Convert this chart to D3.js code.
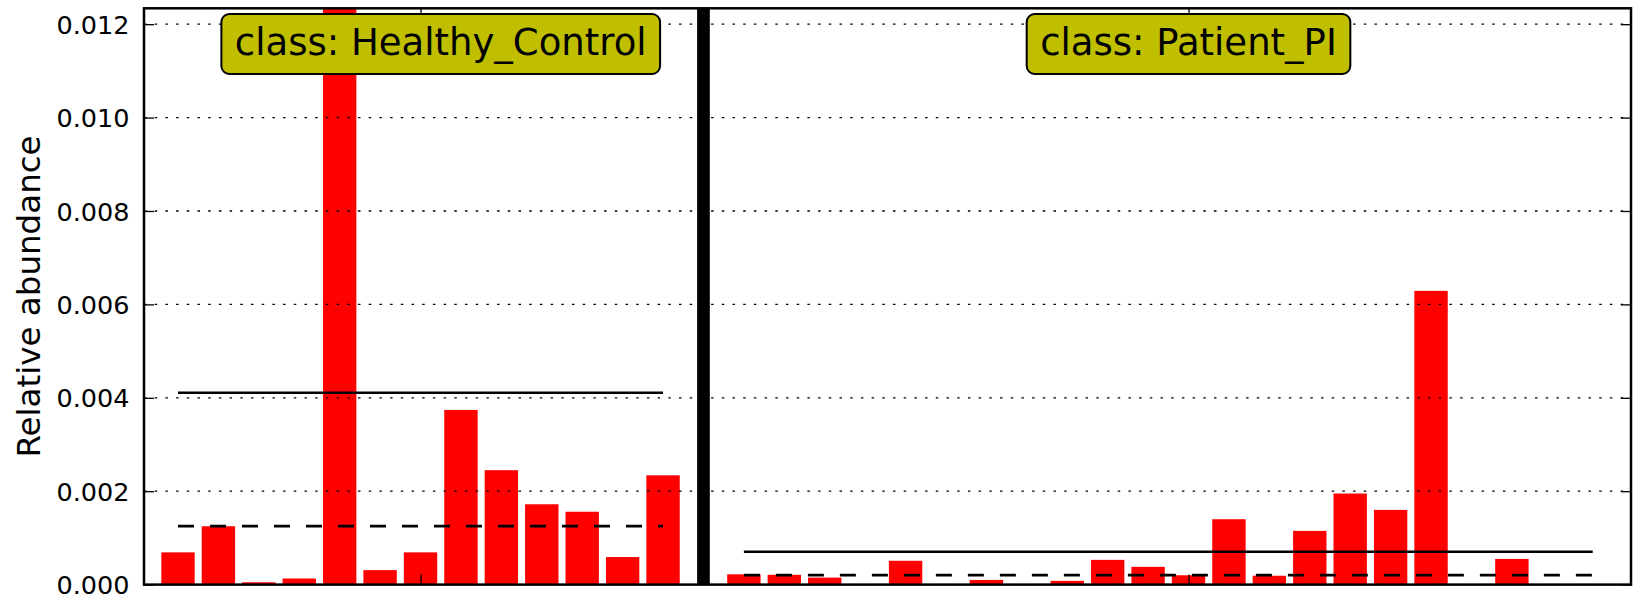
<!DOCTYPE html>
<html>
<head>
<meta charset="utf-8">
<script src="https://cdn.jsdelivr.net/npm/d3@7"></script>
<style>
  body { margin: 0; background: #fff; }
  text { font-family: "DejaVu Sans", sans-serif; }
</style>
</head>
<body>
<div class="feature_plot"></div>
<script>
// relative abundance per sample, one array per class
var classNames = ["Healthy_Control", "Patient_PI"];
var healthyValues = [0.00069, 0.00125, 0.00005, 0.00013, 0.0379, 0.00031, 0.00069,
  0.00374, 0.00245, 0.00172, 0.00156, 0.00059, 0.00234];
var patientValues = [0.00022, 0.00021, 0.00015, 0, 0.00051, 0, 0.0001, 0, 0.00008,
  0.00053, 0.00038, 0.0002, 0.0014, 0.00019, 0.00115, 0.00195, 0.0016, 0.00629,
  0, 0.00055, 0, 0];
var yTicks = [0, 0.002, 0.004, 0.006, 0.008, 0.010, 0.012];
var yTickLabels = ["0.000", "0.002", "0.004", "0.006", "0.008", "0.010", "0.012"];

var margin = {top: 8.3, right: 2, bottom: 12.4, left: 144},
  width = 1633 - margin.left - margin.right,
  height = 597 - margin.top - margin.bottom;

var barW = 0.826;

var svg = d3.select(".feature_plot").append("svg")
  .attr("width", 1633)
  .attr("height", 597);
var g = svg.append("g").attr("transform", "translate(" + margin.left + "," + margin.top + ")");

var x = d3.scaleLinear().domain([-0.428, 36.36]).range([0, width]),
  y = d3.scaleLinear().domain([0, 0.01234]).range([height, 0]);

// lay samples out class after class, one empty slot between classes
var groups = [], pos = 0;
[healthyValues, patientValues].forEach(function (vals, i) {
  groups.push({name: classNames[i], start: pos, values: vals});
  pos += vals.length + 1;
});

svg.append("defs").append("clipPath").attr("id", "plotclip")
  .append("rect").attr("width", width).attr("height", height);

var bars = g.append("g").attr("clip-path", "url(#plotclip)");
groups.forEach(function (grp) {
  bars.selectAll(null)
    .data(grp.values)
    .enter().append("rect")
      .attr("x", function (d, i) { return x(grp.start + i); })
      .attr("width", x(barW) - x(0))
      .attr("y", function (d) { return y(d); })
      .attr("height", function (d) { return y(0) - y(d); })
      .style("fill", "#ff0000");
});

// dotted grid sits above the bars
g.append("g").selectAll("line")
  .data(yTicks.slice(1))
  .enter().append("line")
    .attr("x1", 0).attr("x2", width)
    .attr("y1", function (d) { return y(d); })
    .attr("y2", function (d) { return y(d); })
    .style("stroke", "#000")
    .style("stroke-width", 1.3)
    .style("stroke-dasharray", "2.5,8.2");

// mean (solid) and median (dashed) for each class
groups.forEach(function (grp) {
  var x1 = x(grp.start + barW / 2), x2 = x(grp.start + grp.values.length - 1 + barW / 2);
  var m = d3.mean(grp.values), md = d3.median(grp.values);
  g.append("line")
    .attr("x1", x1).attr("x2", x2).attr("y1", y(m)).attr("y2", y(m))
    .style("stroke", "#000").style("stroke-width", 2.6);
  g.append("line")
    .attr("x1", x1).attr("x2", x2).attr("y1", y(md)).attr("y2", y(md))
    .style("stroke", "#000").style("stroke-width", 2.8)
    .style("stroke-dasharray", "16,16");
});

// thick separator between the classes
var sep = (groups[0].start + groups[0].values.length - 1 + barW + groups[1].start) / 2;
g.append("line")
  .attr("x1", x(sep)).attr("x2", x(sep))
  .attr("y1", 0).attr("y2", height)
  .style("stroke", "#000").style("stroke-width", 12.7);

// axes, ticks pointing inwards
var yTickFmt = function (d) { return yTickLabels[yTicks.indexOf(d)]; };
var yl = g.append("g")
  .call(d3.axisLeft(y).tickValues(yTicks).tickFormat(yTickFmt).tickSize(-10).tickPadding(14.5));
var yr = g.append("g")
  .attr("transform", "translate(" + width + ",0)")
  .call(d3.axisRight(y).tickValues(yTicks).tickFormat("").tickSize(-10));

var xTicks = groups.map(function (grp) { return grp.start + Math.floor(grp.values.length / 2) + barW / 2; });
var xb = g.append("g")
  .attr("transform", "translate(0," + height + ")")
  .call(d3.axisBottom(x).tickValues(xTicks).tickFormat("").tickSize(-10));
var xt = g.append("g")
  .call(d3.axisTop(x).tickValues(xTicks).tickFormat("").tickSize(-10));

[yl, yr, xb, xt].forEach(function (a) {
  a.select(".domain").remove();
  a.selectAll(".tick line").style("stroke", "#000").style("stroke-width", 1.3);
});
yl.selectAll(".tick text")
  .attr("dy", "0.36em")
  .style("font-family", "'DejaVu Sans', sans-serif")
  .style("font-size", "25.5px")
  .style("fill", "#000");

g.append("rect")
  .attr("width", width).attr("height", height)
  .style("fill", "none").style("stroke", "#000").style("stroke-width", 2.5);

svg.append("text")
  .attr("transform", "translate(40," + (margin.top + height / 2) + ") rotate(-90)")
  .attr("text-anchor", "middle")
  .style("font-size", "32.5px")
  .text("Relative abundance");

// class labels in rounded boxes
groups.forEach(function (grp) {
  var cx = margin.left + x(grp.start + grp.values.length / 2 + barW / 2);
  var lab = svg.append("g");
  var box = lab.append("rect");
  var t = lab.append("text")
    .attr("x", cx).attr("y", 54.5)
    .attr("text-anchor", "middle")
    .style("font-size", "37px")
    .style("fill", "#000")
    .text("class: " + grp.name);
  var len = t.node().getComputedTextLength();
  box.attr("x", cx - len / 2 - 13.5).attr("width", len + 27)
    .attr("y", 14).attr("height", 60)
    .attr("rx", 8).attr("ry", 8)
    .style("fill", "#bfbf00").style("stroke", "#000").style("stroke-width", 2);
});
</script>
</body>
</html>
